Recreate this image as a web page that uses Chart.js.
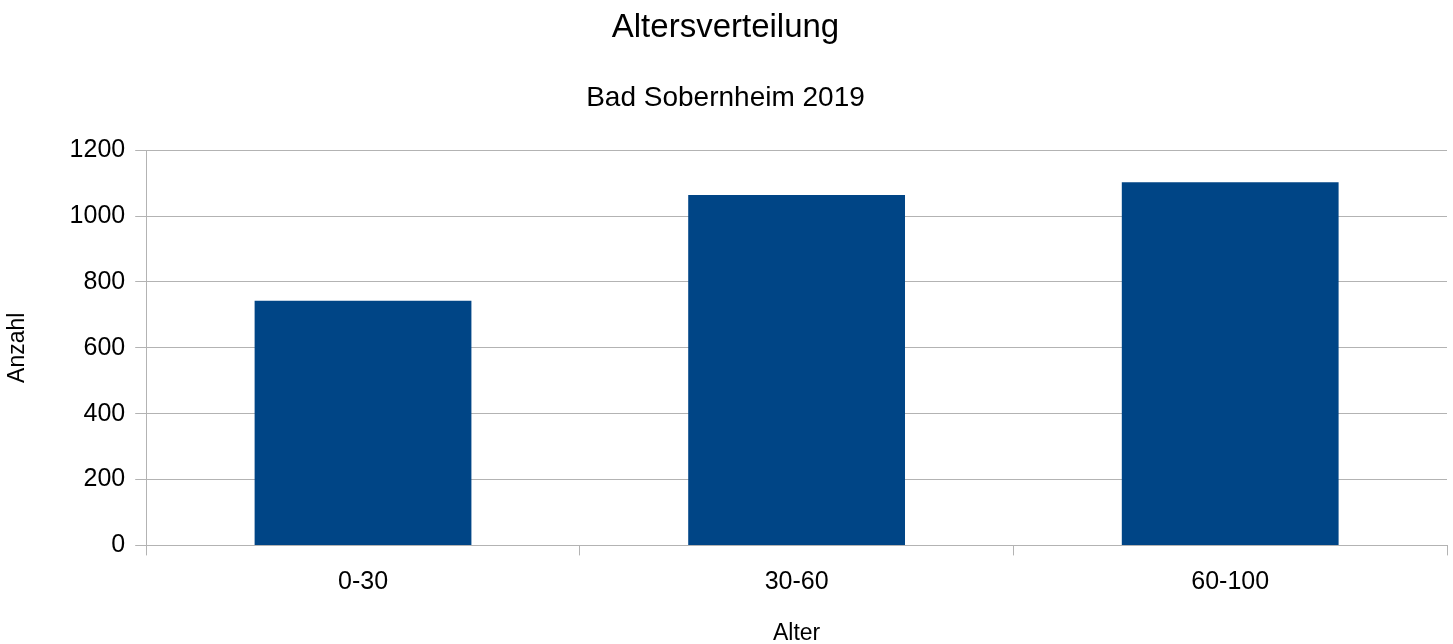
<!DOCTYPE html>
<html>
<head>
<meta charset="utf-8">
<script src="https://cdn.jsdelivr.net/npm/chart.js@4/dist/chart.umd.min.js"></script>
<style>
  html, body { margin: 0; padding: 0; background: #fff; }
  #wrap { width: 1453px; height: 644px; }
</style>
</head>
<body>
<div id="wrap"><canvas id="myChart"></canvas></div>
<script>
// values
const altersgruppen = ['0-30', '30-60', '60-100'];
const anzahl = [743, 1064, 1103];
const yTicks = [0, 200, 400, 600, 800, 1000, 1200];

const gridGrey = '#b3b3b3';
const font = 'Liberation Sans, Arial, sans-serif';

function renderChart() {
    const ctx = document.getElementById('myChart').getContext('2d');
    new Chart(ctx, {
        type: 'bar',
        data: {
            labels: altersgruppen,
            datasets: [{
                label: 'Anzahl',
                data: anzahl,
                backgroundColor: '#004586',
                borderWidth: 0,
                categoryPercentage: 1,
                barPercentage: 0.5
            }]
        },
        options: {
            responsive: true,
            maintainAspectRatio: false,
            animation: false,
            layout: { padding: { left: 4, right: 6, top: 4, bottom: -3 } },
            plugins: {
                legend: { display: false },
                tooltip: { enabled: false },
                title: {
                    display: true,
                    text: 'Altersverteilung',
                    color: '#000',
                    font: { family: font, size: 33, weight: 'normal' },
                    padding: { top: 4, bottom: 34 }
                },
                subtitle: {
                    display: true,
                    text: 'Bad Sobernheim 2019',
                    color: '#000',
                    font: { family: font, size: 28, weight: 'normal' },
                    padding: { top: 0, bottom: 35 }
                }
            },
            scales: {
                x: {
                    offset: true,
                    grid: {
                        offset: true,
                        color: (c) => (c.index === 0 || c.index === altersgruppen.length) ? gridGrey : 'rgba(0,0,0,0)',
                        tickColor: gridGrey,
                        tickLength: 10,
                        lineWidth: 1
                    },
                    border: { color: gridGrey },
                    ticks: {
                        color: '#000',
                        font: { family: font, size: 25 },
                        padding: 12
                    },
                    title: {
                        display: true,
                        text: 'Alter',
                        color: '#000',
                        font: { family: font, size: 23 },
                        padding: { top: 10, bottom: 0 }
                    }
                },
                y: {
                    min: 0,
                    max: 1200,
                    afterBuildTicks: (scale) => { scale.ticks = yTicks.map(v => ({ value: v })); },
                    grid: {
                        color: gridGrey,
                        tickColor: gridGrey,
                        tickLength: 11
                    },
                    border: { color: gridGrey },
                    ticks: {
                        color: '#000',
                        font: { family: font, size: 25 },
                        padding: 10,
                        callback: (v) => String(v)
                    },
                    title: {
                        display: true,
                        text: 'Anzahl',
                        color: '#000',
                        font: { family: font, size: 23 },
                        padding: { top: 0, bottom: 28 }
                    }
                }
            }
        }
    });
}

renderChart();
</script>
</body>
</html>
